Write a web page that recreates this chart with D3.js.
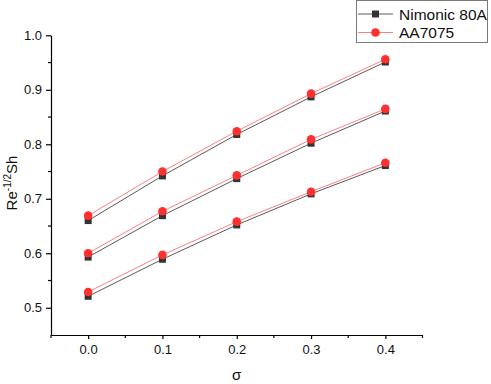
<!DOCTYPE html>
<html>
<head>
<meta charset="utf-8">
<script src="https://cdn.jsdelivr.net/npm/d3@7"></script>
<style>
  html, body { margin: 0; padding: 0; background: #fff; }
  svg { display: block; font-family: "Liberation Sans", Arial, sans-serif; }
</style>
</head>
<body>
<svg id="chart" width="491" height="384"></svg>
<script>
const sigma = [0.0, 0.1, 0.2, 0.3, 0.4];
const nimonicTop = [0.660, 0.742, 0.818, 0.887, 0.951];
const nimonicMid = [0.593, 0.669, 0.737, 0.802, 0.861];
const nimonicBot = [0.521, 0.589, 0.652, 0.709, 0.761];
const aaTop = [0.669, 0.750, 0.824, 0.893, 0.956];
const aaMid = [0.600, 0.677, 0.743, 0.809, 0.865];
const aaBot = [0.529, 0.597, 0.658, 0.713, 0.766];
const xTicks = [0.0, 0.1, 0.2, 0.3, 0.4];
const yTicks = [0.5, 0.6, 0.7, 0.8, 0.9, 1.0];
const seriesNames = ["Nimonic 80A", "AA7075"];

const svg = d3.select("#chart");
const x = d3.scaleLinear().domain([-0.05, 0.45]).range([51, 422.5]);
const y = d3.scaleLinear().domain([0.45, 1.0]).range([335, 35.3]);

const axisColor = "#000";
// Minor ticks
const xMinor = d3.range(-0.05, 0.4501, 0.1);
const yMinor = d3.range(0.55, 0.96, 0.1);

// X axis
const gx = svg.append("g").attr("transform", "translate(0,335)");
gx.call(d3.axisBottom(x).tickValues(xTicks).tickFormat(d3.format(".1f")).tickSize(4).tickSizeOuter(0));
gx.selectAll(".tick text").attr("font-size", 13).attr("fill", "#111").attr("dy", "0.95em").attr("font-family", "Liberation Sans, Arial, sans-serif");
gx.selectAll("line, path").attr("stroke", axisColor).attr("stroke-width", 1.2);
gx.selectAll(".minor").data(xMinor).enter().append("line").attr("class", "minor")
  .attr("x1", d => x(d)).attr("x2", d => x(d)).attr("y1", 0).attr("y2", 3)
  .attr("stroke", axisColor).attr("stroke-width", 1.2);

// Y axis
const gy = svg.append("g").attr("transform", "translate(51,0)");
gy.call(d3.axisLeft(y).tickValues(yTicks).tickFormat(d3.format(".1f")).tickSize(5).tickSizeOuter(0));
gy.selectAll(".tick text").attr("font-size", 13).attr("fill", "#111").attr("x", -9).attr("font-family", "Liberation Sans, Arial, sans-serif");
gy.selectAll("line, path").attr("stroke", axisColor).attr("stroke-width", 1.2);
gy.selectAll(".minor").data(yMinor).enter().append("line").attr("class", "minor")
  .attr("x1", 0).attr("x2", -3).attr("y1", d => y(d)).attr("y2", d => y(d))
  .attr("stroke", axisColor).attr("stroke-width", 1.2);

// Axis labels
const yl = svg.append("text")
  .attr("transform", "translate(17,183) rotate(-90)")
  .attr("text-anchor", "middle").attr("font-size", 15).attr("fill", "#111");
yl.append("tspan").text("Re");
yl.append("tspan").attr("dy", -6).attr("font-size", 10).text("-1/2");
yl.append("tspan").attr("dy", 6).text("Sh");

svg.append("text").attr("x", x(0.2)).attr("y", 380).attr("text-anchor", "middle")
  .attr("font-size", 15).attr("fill", "#111").text("σ");

// Series
const line = d3.line().x((d, i) => x(sigma[i])).y(d => y(d));
const nimGroups = [nimonicTop, nimonicMid, nimonicBot];
const aaGroups = [aaTop, aaMid, aaBot];

nimGroups.forEach(vals => {
  svg.append("path").datum(vals).attr("d", line).attr("fill", "none")
    .attr("stroke", "#5a5a5a").attr("stroke-width", 1);
});
aaGroups.forEach(vals => {
  svg.append("path").datum(vals).attr("d", line).attr("fill", "none")
    .attr("stroke", "#ff8080").attr("stroke-width", 1);
});
nimGroups.forEach(vals => {
  svg.selectAll(null).data(vals).enter().append("rect")
    .attr("x", (d, i) => x(sigma[i]) - 3.5).attr("y", d => y(d) - 3.5)
    .attr("width", 7).attr("height", 7).attr("fill", "#333");
});
aaGroups.forEach(vals => {
  svg.selectAll(null).data(vals).enter().append("circle")
    .attr("cx", (d, i) => x(sigma[i])).attr("cy", d => y(d)).attr("r", 4.3)
    .attr("fill", "#ff3030");
});

// Legend
const lg = svg.append("g");
lg.append("rect").attr("x", 356.5).attr("y", 0.5).attr("width", 131).attr("height", 42)
  .attr("fill", "#fff").attr("stroke", "#7a7a7a").attr("stroke-width", 1);
const lgY = [14, 32.5];
const lgLineColors = ["#5a5a5a", "#ff8080"];
seriesNames.forEach((name, i) => {
  lg.append("line").attr("x1", 358).attr("x2", 393).attr("y1", lgY[i]).attr("y2", lgY[i])
    .attr("stroke", lgLineColors[i]).attr("stroke-width", 1);
  if (i === 0) {
    lg.append("rect").attr("x", 372).attr("y", lgY[i] - 3.5).attr("width", 7).attr("height", 7).attr("fill", "#333");
  } else {
    lg.append("circle").attr("cx", 375.5).attr("cy", lgY[i]).attr("r", 4.3).attr("fill", "#ff3030");
  }
  lg.append("text").attr("x", 399).attr("y", lgY[i]).attr("dy", "0.36em")
    .attr("font-size", 15.5).attr("fill", "#111").text(name);
});
</script>
</body>
</html>
